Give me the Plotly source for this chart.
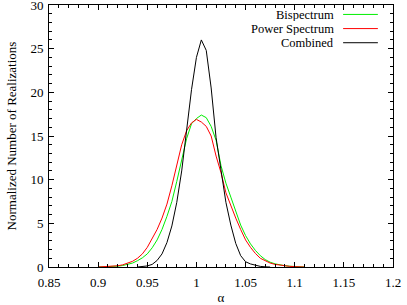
import plotly.graph_objects as go

# ---- data ----
alpha_bi = [0.900, 0.905, 0.910, 0.915, 0.920, 0.925, 0.930, 0.935, 0.940, 0.945,
            0.950, 0.955, 0.960, 0.965, 0.970, 0.975, 0.980, 0.985, 0.990, 0.995,
            1.000, 1.005, 1.010, 1.015, 1.020, 1.025, 1.030, 1.035, 1.040, 1.045,
            1.050, 1.055, 1.060, 1.065, 1.070, 1.075, 1.080, 1.085, 1.090, 1.095,
            1.100, 1.105, 1.110]
bispectrum = [0.0, 0.01, 0.03, 0.06, 0.10, 0.17, 0.28, 0.45, 0.72, 1.05,
              1.5, 2.2, 3.1, 4.3, 5.8, 7.5, 9.8, 12.3, 14.7, 16.4,
              17.0, 17.4, 17.1, 16.1, 14.5, 11.6, 9.6, 8.0, 6.3, 4.8,
              3.6, 2.65, 1.9, 1.3, 0.85, 0.55, 0.36, 0.24, 0.15, 0.09,
              0.05, 0.02, 0.0]

alpha_ps = alpha_bi
power_spectrum = [0.0, 0.02, 0.04, 0.08, 0.14, 0.25, 0.42, 0.65, 1.0, 1.5,
                  2.25, 3.2, 4.3, 5.6, 7.2, 9.3, 11.7, 14.0, 15.6, 16.5,
                  16.9, 16.6, 16.1, 15.0, 12.7, 10.8, 8.5, 7.0, 5.6, 4.3,
                  3.1, 2.25, 1.55, 1.0, 0.68, 0.45, 0.30, 0.20, 0.12, 0.07,
                  0.04, 0.02, 0.0]

alpha_comb = [0.940, 0.945, 0.950, 0.955, 0.960, 0.965, 0.970, 0.975, 0.980, 0.985,
              0.990, 0.995, 1.000, 1.005, 1.010, 1.015, 1.020, 1.025, 1.030, 1.035,
              1.040, 1.045, 1.050, 1.055, 1.060, 1.065, 1.070, 1.075]
combined = [0.0, 0.03, 0.12, 0.3, 0.75, 1.5, 2.8, 4.7, 7.4, 11.0,
            15.5, 20.3, 24.0, 26.0, 24.8, 20.5, 14.8, 10.9, 7.4, 4.8,
            2.7, 1.3, 0.6, 0.35, 0.18, 0.07, 0.02, 0.0]

series_names = ["Bispectrum", "Power Spectrum", "Combined"]
series_colors = ["#00ee00", "#ff0000", "#000000"]

FONT = "Liberation Serif"

fig = go.Figure()
for xs, ys, name, col in zip([alpha_bi, alpha_ps, alpha_comb],
                             [bispectrum, power_spectrum, combined],
                             series_names, series_colors):
    fig.add_trace(go.Scatter(x=xs, y=ys, mode="lines", name=name,
                             line=dict(color=col, width=1), showlegend=False))

# gnuplot-style key: text right-aligned, sample line to its right
key_y = [0.964, 0.910, 0.856]
for name, col, ky in zip(series_names, series_colors, key_y):
    fig.add_annotation(xref="paper", yref="paper", x=0.831, y=ky, text=name,
                       showarrow=False, xanchor="right", yanchor="middle",
                       height=13, borderpad=0,
                       font=dict(family=FONT, size=12.5, color="black"))
    fig.add_shape(type="line", xref="paper", yref="paper",
                  x0=0.855, x1=0.956, y0=ky, y1=ky,
                  line=dict(color=col, width=1))

axis_common = dict(showline=True, linecolor="black", linewidth=1, mirror="allticks",
                   ticks="inside", ticklen=5, tickcolor="black", showgrid=False,
                   zeroline=False, automargin=False, ticklabeloverflow="allow",
                   tickfont=dict(family=FONT, size=13, color="black"))

fig.update_xaxes(range=[0.85, 1.2], tickmode="linear", tick0=0.85, dtick=0.05,
                 ticklabelstandoff=3,
                 minor=dict(dtick=0.01, tick0=0.85, ticks="inside", ticklen=3,
                            tickcolor="black", showgrid=False),
                 title=dict(text="α", font=dict(family=FONT, size=13, color="black"),
                            standoff=6),
                 **axis_common)
fig.update_yaxes(range=[0, 30], tickmode="linear", tick0=0, dtick=5,
                 ticklabelstandoff=2,
                 minor=dict(dtick=1, tick0=0, ticks="inside", ticklen=3,
                            tickcolor="black", showgrid=False),
                 title=dict(text="Normalized Number of Realizations",
                            font=dict(family=FONT, size=13, color="black"),
                            standoff=10),
                 **axis_common)

fig.update_layout(width=407, height=305,
                  margin=dict(l=49, r=14, t=5, b=38),
                  plot_bgcolor="white", paper_bgcolor="white",
                  font=dict(family=FONT, size=13, color="black"))

fig.write_html("out.html", config={"displayModeBar": False, "staticPlot": True},
               post_script="document.body.style.margin='0';document.body.style.padding='0';")
